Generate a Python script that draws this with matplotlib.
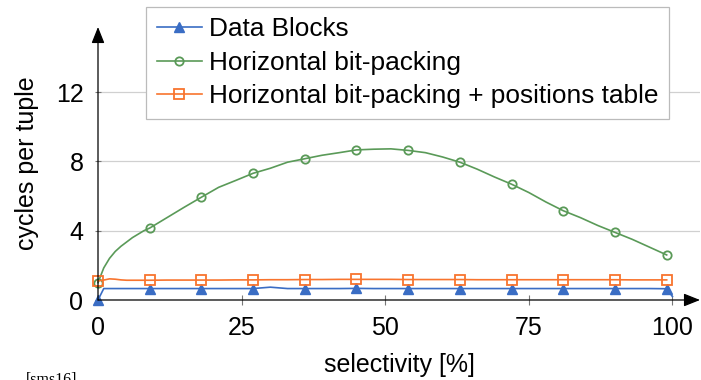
import matplotlib
matplotlib.use('Agg')
import matplotlib.pyplot as plt

plt.rcParams['font.family'] = ['Liberation Sans', 'DejaVu Sans']
plt.rcParams['font.size'] = 18

# selectivity [%] sample points
sel = [0, 1, 2, 3, 4, 5, 6, 7, 8, 9, 12, 15, 18, 21, 24, 27, 30, 33, 36, 39,
       42, 45, 48, 51, 54, 57, 60, 63, 66, 69, 72, 75, 78, 81, 84, 87, 90, 93,
       96, 99]
sel_blocks = sel + [100]

data_blocks = [0.0, 0.66, 0.66, 0.66, 0.66, 0.66, 0.66, 0.66, 0.66, 0.66,
               0.66, 0.66, 0.66, 0.66, 0.66, 0.66, 0.74, 0.66, 0.66, 0.66,
               0.66, 0.67, 0.66, 0.66, 0.66, 0.66, 0.66, 0.66, 0.66, 0.66,
               0.66, 0.66, 0.66, 0.66, 0.66, 0.66, 0.66, 0.66, 0.66, 0.65,
               0.2]
horizontal = [1.0, 1.85, 2.4, 2.8, 3.1, 3.35, 3.6, 3.8, 4.0, 4.15,
              4.75, 5.35, 5.93, 6.5, 6.9, 7.31, 7.6, 7.95, 8.15, 8.35,
              8.5, 8.66, 8.7, 8.72, 8.63, 8.5, 8.25, 7.95, 7.55, 7.1,
              6.68, 6.2, 5.65, 5.15, 4.75, 4.3, 3.9, 3.5, 3.05, 2.6]
horizontal_pos = [1.1, 1.15, 1.22, 1.2, 1.16, 1.14, 1.14, 1.14, 1.14, 1.14,
                  1.15, 1.15, 1.15, 1.15, 1.16, 1.16, 1.17, 1.17, 1.18, 1.18,
                  1.19, 1.19, 1.19, 1.19, 1.18, 1.18, 1.18, 1.18, 1.17, 1.17,
                  1.17, 1.17, 1.17, 1.17, 1.17, 1.17, 1.17, 1.16, 1.16, 1.16]

xticks = [0, 25, 50, 75, 100]
yticks = [0, 4, 8, 12]

blue = '#3a6dc4'
green = '#5a9a58'
orange = '#f8742e'

fig = plt.figure(figsize=(7.01, 3.8), dpi=100)
ax = fig.add_axes([98 / 701, 1 - 300 / 380, 602 / 701, 273 / 380])

marks = [i for i, s in enumerate(sel) if s % 9 == 0]
marks_b = [i for i, s in enumerate(sel_blocks) if s % 9 == 0]

ax.plot(sel_blocks, data_blocks, color=blue, lw=1.2, marker='^', ms=6.5,
        markevery=marks_b, mfc=blue, mec=blue, label='Data Blocks',
        clip_on=False, zorder=3)
ax.plot(sel, horizontal, color=green, lw=1.2, marker='o', ms=6,
        markevery=marks, mfc='none', mec=green, mew=1.3,
        label='Horizontal bit-packing', clip_on=False, zorder=3)
ax.plot(sel, horizontal_pos, color=orange, lw=1.2, marker='s', ms=6.5,
        markevery=marks, mfc='none', mec=orange, mew=1.3,
        label='Horizontal bit-packing + positions table', clip_on=False,
        zorder=3)

ax.set_xlim(0, 104.8)
ax.set_ylim(0, 15.75)
ax.set_xticks(xticks)
ax.set_yticks(yticks)
ax.tick_params(axis='x', direction='inout', length=7, width=0.8,
               color='#777777', pad=8)
ax.tick_params(axis='y', direction='inout', length=5, width=0.8,
               color='#777777', pad=8)
ax.grid(axis='y', color='#d0d0d0', lw=0.9)
ax.set_axisbelow(True)

for sp in ax.spines.values():
    sp.set_visible(False)

# axis lines with arrow heads
arrow = dict(arrowstyle='-|>,head_length=0.55,head_width=0.22', color='black',
             lw=0.9, shrinkA=0, shrinkB=0)
ax.annotate('', xy=(1, 0), xytext=(0, 0), xycoords='axes fraction',
            arrowprops=arrow, annotation_clip=False)
ax.annotate('', xy=(0, 1), xytext=(0, 0), xycoords='axes fraction',
            arrowprops=arrow, annotation_clip=False)

ax.set_xlabel('selectivity [%]', labelpad=9.5)
ax.set_ylabel('cycles per tuple', labelpad=12)

leg = ax.legend(loc='upper left', bbox_to_anchor=(146 / 701, 1 - 7 / 380),
                bbox_transform=fig.transFigure, borderaxespad=0,
                fancybox=False, framealpha=1, edgecolor='#bbbbbb',
                handlelength=1.75, handletextpad=0.25, labelspacing=0.36,
                borderpad=0.4, fontsize=18.9)
leg.get_frame().set_linewidth(0.9)

fig.text(26 / 701, 1 - 383.5 / 380, '[sms16]', family='Liberation Serif',
         fontsize=11.5, va='baseline', ha='left')

fig.savefig('out.png', dpi=100)
